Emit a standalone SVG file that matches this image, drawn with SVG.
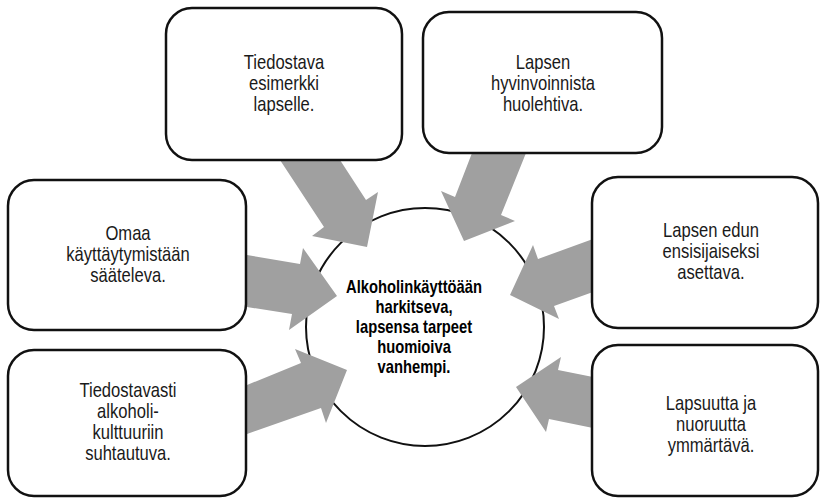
<svg xmlns="http://www.w3.org/2000/svg" width="820" height="498" viewBox="0 0 820 498">
<style>
.box{fill:#fff;stroke:#111;stroke-width:2.5}
.hub{fill:#fff;stroke:#111;stroke-width:2}
.arr{fill:#a0a0a0;stroke:none}
.t{font-family:'Liberation Sans',Arial,sans-serif;font-size:20px;fill:#1a1a1a;text-anchor:middle}
.c{font-family:'Liberation Sans',Arial,sans-serif;font-size:18px;font-weight:bold;fill:#000;text-anchor:middle}
</style>
<rect width="820" height="498" fill="#fff"/>
<g id="hub">
<circle class="hub" cx="425" cy="327" r="119"/>
</g>
<g id="connectors">
<polygon class="arr" points="280,160 340,160 366,200 378,192 367,247 312,236 324,227"/>
<polygon class="arr" points="472,153 526,153 501,215 515,221 464,241 441,191 455,197"/>
<polygon class="arr" points="247,255 300,264 303,248 337,296 289,330 292,314 247,307"/>
<polygon class="arr" points="247,385 301,363 295,349 347,370 326,423 321,408 247,434"/>
<polygon class="arr" points="593,239 538,259 533,245 510,295 559,319 554,306 593,292"/>
<polygon class="arr" points="593,377 558,370 561,357 516,387 546,432 549,419 593,428"/>
</g>
<g id="hub-label" transform="translate(414,0) scale(0.82,1)">
<text class="c" x="0" y="293">Alkoholinkäyttöään</text>
<text class="c" x="0" y="313">harkitseva,</text>
<text class="c" x="0" y="333">lapsensa tarpeet</text>
<text class="c" x="0" y="353">huomioiva</text>
<text class="c" x="0" y="373">vanhempi.</text>
</g>
<g id="n1">
<rect class="box" x="166" y="8" width="236" height="152" rx="26"/>
<g transform="translate(284,0) scale(0.83,1)">
<text class="t" x="0" y="69">Tiedostava</text>
<text class="t" x="0" y="90">esimerkki</text>
<text class="t" x="0" y="111">lapselle.</text>
</g>
</g>
<g id="n2">
<rect class="box" x="423" y="12" width="239" height="141" rx="26"/>
<g transform="translate(543,0) scale(0.83,1)">
<text class="t" x="0" y="69">Lapsen</text>
<text class="t" x="0" y="90">hyvinvoinnista</text>
<text class="t" x="0" y="111">huolehtiva.</text>
</g>
</g>
<g id="n3">
<rect class="box" x="8" y="180" width="238" height="150" rx="26"/>
<g transform="translate(128,0) scale(0.83,1)">
<text class="t" x="0" y="240">Omaa</text>
<text class="t" x="0" y="261">käyttäytymistään</text>
<text class="t" x="0" y="282">sääteleva.</text>
</g>
</g>
<g id="n4">
<rect class="box" x="8" y="350" width="238" height="146" rx="26"/>
<g transform="translate(128,0) scale(0.83,1)">
<text class="t" x="0" y="397">Tiedostavasti</text>
<text class="t" x="0" y="418">alkoholi-</text>
<text class="t" x="0" y="439">kulttuuriin</text>
<text class="t" x="0" y="460">suhtautuva.</text>
</g>
</g>
<g id="n5">
<rect class="box" x="592" y="177" width="226" height="151" rx="26"/>
<g transform="translate(711,0) scale(0.83,1)">
<text class="t" x="0" y="237">Lapsen edun</text>
<text class="t" x="0" y="258">ensisijaiseksi</text>
<text class="t" x="0" y="279">asettava.</text>
</g>
</g>
<g id="n6">
<rect class="box" x="592" y="345" width="226" height="151" rx="26"/>
<g transform="translate(711,0) scale(0.83,1)">
<text class="t" x="0" y="410">Lapsuutta ja</text>
<text class="t" x="0" y="431">nuoruutta</text>
<text class="t" x="0" y="452">ymmärtävä.</text>
</g>
</g>
</svg>
